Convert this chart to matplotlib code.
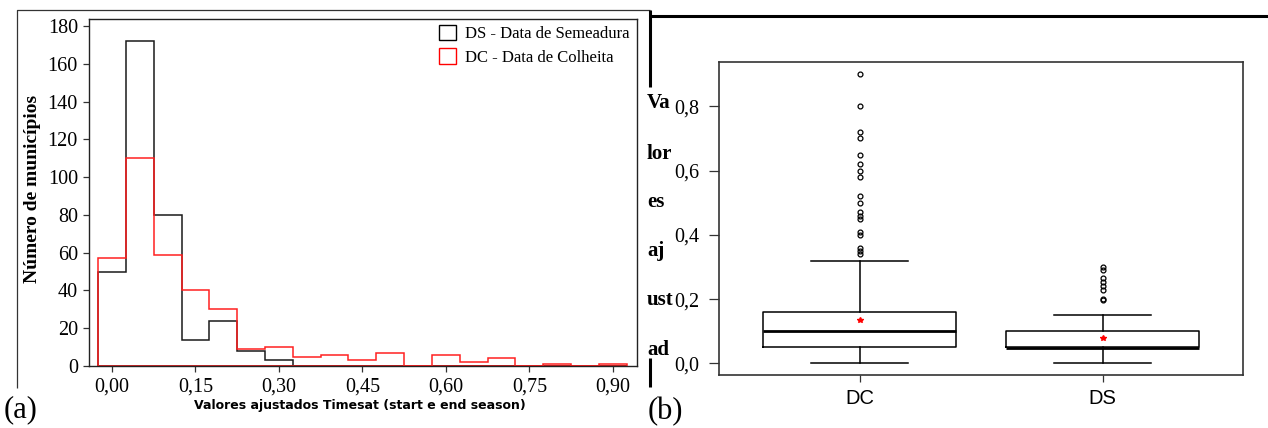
import numpy as np
import matplotlib
matplotlib.use('Agg')
import matplotlib.pyplot as plt
from matplotlib.lines import Line2D
from matplotlib.patches import Patch

#--data: histogram (bin centers, counts)--#
bin_edges = [-0.025, 0.025, 0.075, 0.125, 0.175, 0.225, 0.275, 0.325, 0.375, 0.425,
             0.475, 0.525, 0.575, 0.625, 0.675, 0.725, 0.775, 0.825, 0.875, 0.925]
ds_counts = [50, 172, 80, 14, 24, 8, 3, 0, 0, 0, 0, 0, 0, 0, 0, 0, 0, 0, 0]
dc_counts = [57, 110, 59, 40, 30, 9, 10, 5, 6, 3, 7, 0, 6, 2, 4, 0, 1, 0, 1]
hist_xticks = [0.0, 0.15, 0.30, 0.45, 0.60, 0.75, 0.90]
hist_xticklabels = ['0,00', '0,15', '0,30', '0,45', '0,60', '0,75', '0,90']
hist_yticks = [0, 20, 40, 60, 80, 100, 120, 140, 160, 180]

#--data: boxplot summary--#
box_labels = ['DC', 'DS']
box_whislo = [0.0, 0.002]
box_q1 = [0.05, 0.05]
box_med = [0.10, 0.049]
box_q3 = [0.16, 0.10]
box_whishi = [0.32, 0.15]
box_mean = [0.136, 0.078]
dc_fliers = [0.90, 0.80, 0.72, 0.70, 0.65, 0.62, 0.60, 0.58, 0.52, 0.50, 0.47,
             0.46, 0.45, 0.41, 0.40, 0.36, 0.35, 0.34]
ds_fliers = [0.30, 0.29, 0.265, 0.255, 0.24, 0.23, 0.202, 0.198]
box_yticks = [0.0, 0.2, 0.4, 0.6, 0.8]
box_yticklabels = ['0,0', '0,2', '0,4', '0,6', '0,8']
stub_words = ['Va', 'lor', 'es', 'aj', 'ust', 'ad']

W, H = 1268, 428
fig = plt.figure(figsize=(W / 100, H / 100), dpi=100)


def fx(x):
    return x / W


def fy(y):
    return 1 - y / H


serif = ['Liberation Serif', 'DejaVu Serif']
sans = ['Liberation Sans', 'DejaVu Sans']

#--(a) histogram--#
ax1 = fig.add_axes([fx(89), fy(366), fx(637) - fx(89), fy(19) - fy(366)])
centers = [(bin_edges[i] + bin_edges[i + 1]) / 2 for i in range(len(ds_counts))]
ax1.hist(centers, bins=bin_edges, weights=ds_counts, histtype='stepfilled',
         facecolor='none', edgecolor='#1a1a1a', lw=1.1)
ax1.hist(centers, bins=bin_edges, weights=dc_counts, histtype='stepfilled',
         facecolor='none', edgecolor='#ff2020', lw=1.1)
ax1.set_xlim(-0.0413, 0.9435)
ax1.set_ylim(0, 183.7)
ax1.set_xticks(hist_xticks)
ax1.set_xticklabels(hist_xticklabels)
ax1.set_yticks(hist_yticks)
ax1.tick_params(direction='out', length=4, width=0.9, pad=4, labelsize=14.5,
                color='#333333')
for lab in ax1.get_xticklabels() + ax1.get_yticklabels():
    lab.set_family(serif)
for sp in ax1.spines.values():
    sp.set_color('#222222')
    sp.set_linewidth(1.0)

handles = [Patch(facecolor='white', edgecolor='black', lw=1),
           Patch(facecolor='white', edgecolor='red', lw=1)]
ax1.legend(handles, ['DS - Data de Semeadura', 'DC - Data de Colheita'],
           loc='upper left', bbox_to_anchor=(fx(439), fy(25)),
           bbox_transform=fig.transFigure, frameon=False,
           prop={'family': serif, 'size': 12}, handlelength=1.0,
           handleheight=1.05, handletextpad=0.55, labelspacing=0.35,
           borderpad=0, borderaxespad=0)

fig.text(fx(33), fy(189), 'Número de municípios', rotation=90, ha='center',
         va='center', fontsize=14, fontweight='bold', family=serif)
fig.text(fx(360), fy(406), 'Valores ajustados Timesat (start e end season)',
         ha='center', va='center', fontsize=9, fontweight='bold',
         family=['DejaVu Sans'])
fig.text(fx(4), fy(410), '(a)', ha='left', va='center', fontsize=22, family=serif)

#--(b) boxplot--#
ax2 = fig.add_axes([fx(719), fy(375), fx(1243) - fx(719), fy(62) - fy(375)])
stats = []
for i, name in enumerate(box_labels):
    stats.append({'label': name, 'whislo': box_whislo[i], 'q1': box_q1[i],
                  'med': box_med[i], 'q3': box_q3[i], 'whishi': box_whishi[i],
                  'mean': box_mean[i],
                  'fliers': dc_fliers if i == 0 else ds_fliers})
ax2.bxp(stats, positions=[1, 2], widths=0.795, capwidths=0.4, showmeans=True,
        boxprops={'color': 'black', 'lw': 1.1},
        whiskerprops={'color': 'black', 'lw': 1.1},
        capprops={'color': 'black', 'lw': 1.1},
        medianprops={'color': 'black', 'lw': 2.0},
        meanprops={'marker': '*', 'markerfacecolor': 'red',
                   'markeredgecolor': 'red', 'markersize': 4},
        flierprops={'marker': 'o', 'markerfacecolor': 'none',
                    'markeredgecolor': 'black', 'markersize': 3.5,
                    'markeredgewidth': 0.9})
ax2.set_xlim(0.42, 2.578)
ax2.set_ylim(-0.0358, 0.938)
ax2.set_yticks(box_yticks)
ax2.set_yticklabels(box_yticklabels)
ax2.tick_params(axis='y', direction='out', length=7, width=0.9, pad=7,
                labelsize=14.5, color='#333333')
ax2.tick_params(axis='x', direction='out', length=5, width=0.9, pad=5,
                labelsize=14.5, color='#333333')
for lab in ax2.get_yticklabels():
    lab.set_family(serif)
for lab in ax2.get_xticklabels():
    lab.set_family(sans)
for sp in ax2.spines.values():
    sp.set_color('#333333')
    sp.set_linewidth(1.2)

stub_base = [108, 159, 207, 256, 305, 355]
for word, yb in zip(stub_words, stub_base):
    fig.text(fx(647), fy(yb), word, ha='left', va='baseline', fontsize=15,
             fontweight='bold', family=serif, zorder=1)

fig.text(fx(648), fy(412), '(b)', ha='left', va='center', fontsize=22, family=serif)

#--frame lines--#
def fline(xs, ys, lw, color):
    fig.add_artist(Line2D([fx(v) for v in xs], [fy(v) for v in ys], lw=lw,
                          color=color, transform=fig.transFigure,
                          solid_capstyle='butt'))


fline([17, 17, 650], [388, 10, 10], 0.9, '#333333')
fline([650, 650], [10, 87], 2.2, 'black')
fline([650, 1268], [16, 16], 2.2, 'black')
fline([650, 650], [358, 387], 2.2, 'black')

fig.savefig('out.png', dpi=100)
